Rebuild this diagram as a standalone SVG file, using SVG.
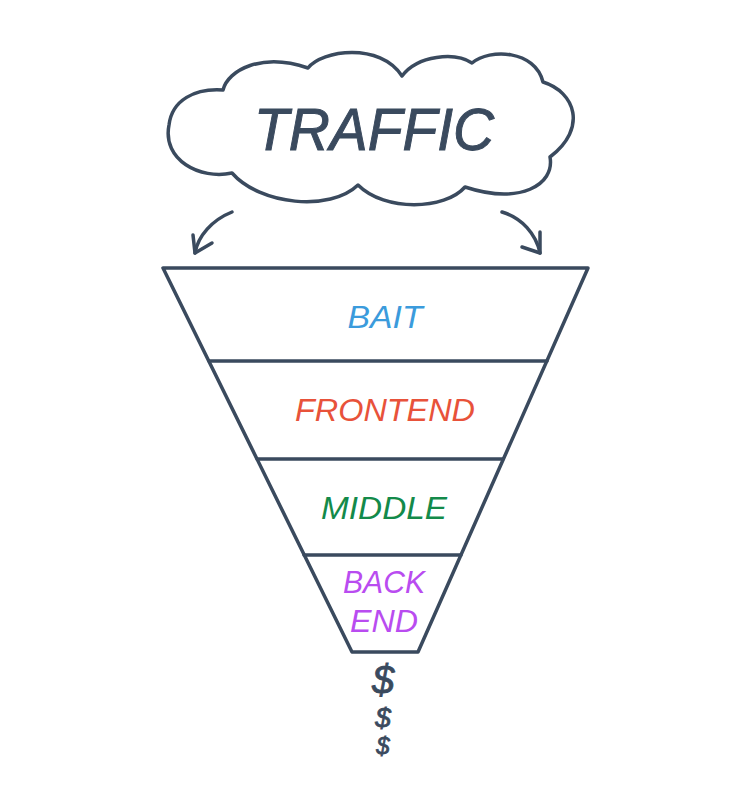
<svg xmlns="http://www.w3.org/2000/svg" width="750" height="805" viewBox="0 0 750 805">
<style>
.ln{fill:none;stroke:#3a4a5e;stroke-width:3.5;stroke-linecap:round;stroke-linejoin:round}
.t{font-family:"Comic Sans MS","Liberation Sans","DejaVu Sans",sans-serif;font-style:italic;text-anchor:middle}
</style>
<rect width="750" height="805" fill="#ffffff"/>
<g id="traffic">
<path class="ln" fill="#fff" d="M223,90 C228,70 262,52 308,68 C322,50 380,42 402,76 C418,55 455,52 472,63 C490,48 535,50 543,82 C575,92 588,128 550,157 C555,185 520,205 465,187 C445,210 385,212 358,185 C330,212 260,205 232,173 C200,180 162,160 169,125 C172,100 195,88 223,90 Z"/>
<text class="t" x="374" y="150" font-size="60" fill="#3a4a5e" stroke="#3a4a5e" stroke-width="1" textLength="240" lengthAdjust="spacingAndGlyphs">TRAFFIC</text>
</g>
<g id="connectors">
<path class="ln" d="M232,212 C212,220 198,236 195,253"/>
<path class="ln" d="M193,235 L195,253 L212,243"/>
<path class="ln" d="M502,212 C522,218 536,234 540,253"/>
<path class="ln" d="M522,247 L540,253 L540,232"/>
</g>
<g id="funnel">
<path class="ln" d="M163,268 L588,268 L418,652 L352,652 Z"/>
<line class="ln" x1="209" y1="361" x2="547" y2="361"/>
<line class="ln" x1="257" y1="459" x2="503" y2="459"/>
<line class="ln" x1="304" y1="555" x2="461" y2="555"/>
</g>
<g id="bait"><text class="t" x="385" y="328" font-size="32" fill="#3b9bdc" textLength="75" lengthAdjust="spacingAndGlyphs">BAIT</text></g>
<g id="frontend"><text class="t" x="385" y="421" font-size="32" fill="#e8523a" textLength="180" lengthAdjust="spacingAndGlyphs">FRONTEND</text></g>
<g id="middle"><text class="t" x="384" y="519" font-size="32" fill="#138a4a" textLength="126" lengthAdjust="spacingAndGlyphs">MIDDLE</text></g>
<g id="backend">
<text class="t" x="384" y="593" font-size="32" fill="#b94cf0" textLength="82" lengthAdjust="spacingAndGlyphs">BACK</text>
<text class="t" x="384" y="632" font-size="32" fill="#b94cf0" textLength="68" lengthAdjust="spacingAndGlyphs">END</text>
</g>
<g id="dollars" fill="#3a4a5e" stroke="#3a4a5e" stroke-width="0.8">
<text class="t" x="383" y="694" font-size="40">$</text>
<text class="t" x="383" y="727" font-size="28">$</text>
<text class="t" x="383" y="754" font-size="24">$</text>
</g>
</svg>
